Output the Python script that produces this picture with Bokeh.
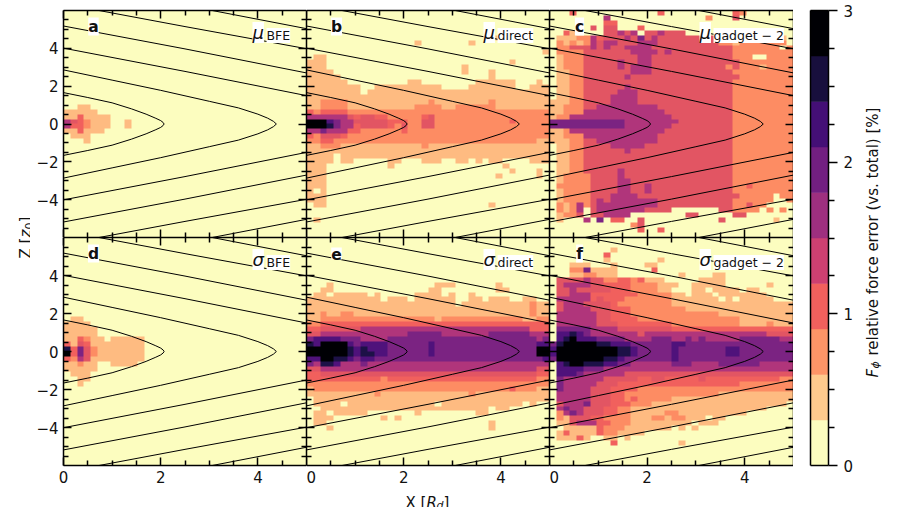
from math import pi

import numpy as np
from bokeh.embed import file_html
from bokeh.layouts import column, row
from bokeh.models import FixedTicker, Label, LinearAxis, LinearColorMapper
from bokeh.plotting import figure
from bokeh.resources import INLINE

# colour levels, 0 (< 0.3 %) to 9 (> 2.7 %), one step is 0.3 %
CBAR_COLORS = ["#fcfdbf", "#feca8d", "#fd9567", "#f1605d", "#cd4071",
               "#9e2f7f", "#721f81", "#440f76", "#180f3d", "#000004"]
CELL_COLORS = ["#fcfdbf", "#febb81", "#fd8c63", "#f1605d", "#e25563",
               "#b0357b", "#7b2382", "#4f127b", "#1d1147", "#000004"]
LEVEL_EDGES = [0.0, 0.3, 0.6, 0.9, 1.2, 1.5, 1.8, 2.1, 2.4, 2.7, 3.0]

X_TICKS = [0, 2, 4]
X_MINOR = [0.5, 1, 1.5, 2.5, 3, 3.5, 4.5]
Z_TICKS = [-4, -2, 0, 2, 4]
Z_MINOR = [-5.5, -5, -4.5, -3.5, -3, -2.5, -1.5, -1, -0.5, 0.5, 1, 1.5, 2.5, 3, 3.5, 4.5, 5, 5.5]
CBAR_TICKS = [0, 1, 2, 3]
CBAR_MINOR = [0.25, 0.5, 0.75, 1.25, 1.5, 1.75, 2.25, 2.5, 2.75]

# contour lines, upper half (the lower half is its mirror image)
CONTOUR_X = [
    [0, 0.5, 1.0, 1.4, 1.7, 1.9, 2.0, 2.05, 2.07],
    [0, 1, 2, 3, 3.6, 4, 4.2, 4.32, 4.38],
    [0, 2.5, 5],
    [0, 2.5, 5],
    [0.73, 2.5, 5],
    [3.06, 5],
]
CONTOUR_Z = [
    [1.66, 1.4, 1.12, 0.8, 0.52, 0.3, 0.18, 0.08, 0],
    [2.86, 2.32, 1.78, 1.2, 0.85, 0.52, 0.31, 0.14, 0],
    [4.01, 2.78, 1.5],
    [5.18, 3.97, 2.7],
    [6, 5.15, 3.98],
    [6, 5.04],
]

# cell levels, row number from the top -> columns from x = 0 (missing cells are 0)
MU_BFE = {
    19: "0011",
    20: "11111",
    21: "1131111",
    22: "5432111001",
    23: "5332111001",
    24: "113111",
    25: "0111",
    26: "0001",
}
MU_DIRECT = {
    5: "0000000000 0000000000 0000000010",
    6: "0000000000 0000001000 0000100000",
    8: "0000000000 0000000000 0000000000 000001",
    9: "0110000000",
    10: "1110000000 0000000000 0000000000 100000",
    11: "1110000000 0000000000 0001000000",
    12: "1111000000 0000000000 0001000100",
    13: "1111100000 0000000000 0000000100",
    14: "1111110000 0000011000 0000011111 100010",
    15: "1111111100 1111111111 0000111111 100111",
    16: "1111111101 1111111111 1111111111 111111",
    17: "1111111111 1111111111 1111111111 111111",
    18: "1122221111 1111111121 1111111211 111111",
    19: "1122221111 1111112222 1122222211 111111",
    20: "3233332222 2222222222 2222222222 222222",
    21: "5555554344 3322222342 2222222222 222222",
    22: "9997655444 4433322442 2222222222 322222",
    23: "9998655344 4432422442 2222222222 222222",
    24: "5565553322 2222322222 2222222222 222222",
    25: "3244432222 2222222222 2222222222 222222",
    26: "2233222222 2222222222 2222222222 222211",
    27: "1122211111 1111111211 1111111111 111111",
    28: "1111111111 1111111111 1111111111 111111",
    29: "1111011111 1111111111 1111111111 111111",
    30: "1111011000 0011000111 0011010110 000111",
    31: "1110000000 0010000000 0000000001 000000",
    32: "1110000000 0000000000 0000000000 100010",
    33: "1110000000 0000000000 0000000010 000010",
    34: "1110000000",
    35: "1110000000",
    36: "1010000000",
    37: "1110000000",
    38: "1110000000",
    39: "0110000000 0000000000 0000000100",
    42: "0100000000",
}
MU_GADGET = {
    0: "0003000000 0000003000 0000000320 000000",
    1: "0000000050 0000000000 0002000400 000000",
    2: "0000000033 0000000000 0000000000 000000",
    3: "0000004044 0003000000 0000000000 000000",
    4: "0031000044 5450445444 0000000000 000200",
    5: "0111225344 4546454444 4444422212 222110",
    6: "0212125455 4445554444 4444422122 222220",
    7: "0224445454 4555544444 4444444222 222202",
    8: "0222244444 4455554544 4444444222 222222",
    9: "0122244444 4445544444 4444444222 002222",
    10: "0122244444 5445544444 4444444422 222222",
    11: "0122244444 5455544444 4444442422 212222",
    12: "0112244444 4455544444 4444444222 222222",
    13: "0112244444 4544444444 4444444422 222222",
    14: "0112244444 4444444444 4444444222 222222",
    15: "0112244444 4544444444 4444444222 222222",
    16: "0112244444 5554444444 4444444222 222222",
    17: "0112244445 5554444444 4444444222 222222",
    18: "1112244445 5554444444 4444444222 222222",
    19: "1122244555 5555554444 4444444222 222222",
    20: "1122255555 5555555444 4444444222 222222",
    21: "1225555555 5555555544 4444444222 222222",
    22: "6666666666 6555555554 4444444222 222222",
    23: "6666666666 6555555544 4444444222 222222",
    24: "1125555555 5555555444 4444444222 222222",
    25: "1122255555 5555554444 4444444222 222222",
    26: "1112244555 5555554444 4444444222 222222",
    27: "0112244445 5555444444 4444444222 222222",
    28: "0112244444 4544444444 4444444222 222222",
    29: "0112244444 4444444444 4444444222 222222",
    30: "0112244444 4444444444 4444444222 222222",
    31: "0112244444 4444444444 4444444222 222222",
    32: "0112244444 5444444444 4444444222 222222",
    33: "0122224444 5444444444 4444444222 222222",
    34: "0122224444 5544444444 4444444222 222222",
    35: "0222224444 5544544444 4444444223 222222",
    36: "0122224444 5544544444 4444444222 222222",
    37: "0122224445 5554444444 4444444422 222022",
    38: "0122224545 5555554444 4444444222 222002",
    39: "0212524555 5555554444 4444444224 220000",
    40: "0212504555 5555444400 0000044222 202020",
    41: "0122404455 5500000000 4400000440 000000",
    42: "0100050603 3004000000 0000040000 000100",
    43: "0000000000 0024000000",
    44: "0000000000 0003003000",
}
SIGMA_BFE = {
    16: "011",
    17: "1111",
    18: "11111",
    19: "11111",
    20: "113211011111",
    21: "314311111111",
    22: "836421111111",
    23: "936421111111",
    24: "325411111111",
    25: "11211001111",
    26: "11111",
    27: "0111",
    28: "0011",
    29: "001",
}
SIGMA_DIRECT = {
    9: "0001000000 0000000001 1100000010",
    10: "0011000000 0000000011 0000000011",
    11: "0110111110 1000001111 0100100000",
    12: "1111111111 1011101111 1100110111 001100",
    13: "1111111111 1111111111 1101111111 111211",
    14: "1111111111 1111111111 1111111111 111211",
    15: "1121122111 1111111111 1111111111 111211",
    16: "1122222222 2222222221 2222222222 221122",
    17: "2233333333 3333333333 3333333333 333333",
    18: "3344444455 5555555555 5555555555 555333",
    19: "4455555555 5555566666 5555555666 666555",
    20: "6777766655 5566666666 6666666666 666656",
    21: "8799997677 7766666676 6666666666 666677",
    22: "9999998787 7766666676 6666666666 666699",
    23: "9999998788 7766666676 6666666666 666699",
    24: "7799887677 6666666666 6666666666 666667",
    25: "6588755565 5555555555 5555555555 555555",
    26: "4455555555 5555555555 5555555555 555544",
    27: "3344444444 4444444444 4444444444 444433",
    28: "3333333333 3233333333 3333333333 333322",
    29: "2222222222 2222222222 2222222222 222222",
    30: "1222222222 2222222222 2222222222 322211",
    31: "1111111111 2111111111 1111211111 111111",
    32: "0111111111 1111111111 1111111111 111111",
    33: "0111101111 1111111110 1111111111 110100",
    34: "0011111111 1111111111 1111111011 000000",
    35: "0110111110 0000001000 0000011000 000000",
    36: "0111000000 0101000000",
    37: "0110000000 0000000000 0000000100",
    38: "0001000000 0000000000 0000000100",
}
SIGMA_GADGET = {
    2: "0000000001",
    3: "0000000030",
    4: "0000000010 0000001000",
    5: "0001110001 0000110000",
    6: "0002261111 0000030000",
    7: "0001122111 0000000001 0000110000",
    8: "0444454422 3323111000 0011110000 000000",
    9: "0455554433 3322221110 0111110000 001000",
    10: "0445444443 3322221100 0110111101 100000",
    11: "0445553333 3332222211 0111011111 110000",
    12: "0555553433 3222222211 1111101011 111000",
    13: "0455544443 2222222211 1111111111 111111",
    14: "0455554443 3322222222 1111111111 111111",
    15: "0555555443 3322222222 2222211111 111111",
    16: "0555555443 3332222222 2222222211 111111",
    17: "0555555444 3333333322 2222222211 112111",
    18: "0666665555 4444444433 3333333333 333333",
    19: "0778765555 5554555555 5555555555 554444",
    20: "0789777666 6555566655 6565555566 666655",
    21: "6899999887 7766666677 6666666666 666666",
    22: "7999999999 8876666676 6666667766 666666",
    23: "7999999999 8876666676 6666667766 666666",
    24: "6999999988 7666666676 6666666666 666666",
    25: "0789988877 6655555566 6555566666 655555",
    26: "0777766655 5555555555 5555555555 555555",
    27: "0777655555 5444444444 4444444444 444444",
    28: "0655555544 4443344333 3343333333 333322",
    29: "0655555444 3333333333 3333333322 222222",
    30: "0655554443 3332222222 2222222222 222222",
    31: "0555554443 3222222222 2222211111 111111",
    32: "0555554443 3232222211 1111111111 111111",
    33: "0455564443 3322211111 1111111111 111110",
    34: "0565544433 2211111111 1111111111 110000",
    35: "0256544433 2211111221 1111111110 000000",
    36: "0214443322 2211122122 1110110000 000000",
    37: "0114555332 2211111111 1011100000 000000",
    38: "0011111322 2111111101 0100000000 000000",
    39: "0131111322 1111000000",
    40: "0111310011 0100000000",
    41: "0000000003 0000000001",
}

N_ROWS = 46
N_COLS = 36
FONT = "DejaVu Sans"


def to_grid(rows):
    # middle of each level's range, in percent
    grid = np.zeros((N_ROWS, N_COLS))
    for r, cells in rows.items():
        cells = cells.replace(" ", "").ljust(N_COLS, "0")[:N_COLS]
        grid[r] = [(int(c) + 0.5) * 0.3 for c in cells]
    return np.flipud(grid)


def style_axis(axis, ticks, minor, labelled, tick_in=8, minor_in=5):
    axis.ticker = FixedTicker(ticks=ticks, minor_ticks=minor)
    axis.axis_line_width = 1.5
    axis.major_tick_line_width = 1.5
    axis.minor_tick_line_width = 1.5
    axis.major_tick_in = tick_in
    axis.major_tick_out = 0
    axis.minor_tick_in = minor_in
    axis.minor_tick_out = 0
    axis.major_label_text_font = FONT
    axis.major_label_text_color = "#111111"
    if labelled:
        axis.major_label_standoff = 5
        axis.major_label_text_font_size = "15px"
        axis.major_label_overrides = {-4: "\u22124", -2: "\u22122"}
    else:
        axis.major_label_standoff = 0
        axis.major_label_text_font_size = "1px"
        axis.major_label_overrides = {t: "" for t in ticks}


def word(p, x, y, text, size=15, style="normal", angle=0, bg=None, align="left", baseline="alphabetic"):
    p.add_layout(Label(x=x, y=y, x_units="screen", y_units="screen", text=text,
                       text_font=FONT, text_font_size="%gpx" % size, text_font_style=style,
                       text_color="#111111", angle=angle, text_align=align,
                       text_baseline=baseline, background_fill_color=bg))


def text_strip(frame_w, frame_h, left=0, top=0, bottom=0):
    s = figure(frame_width=frame_w, frame_height=frame_h, x_range=(0, 1), y_range=(0, 1),
               output_backend="svg", toolbar_location=None, x_axis_type=None, y_axis_type=None,
               min_border=0, min_border_left=left, min_border_top=top, min_border_bottom=bottom,
               outline_line_color=None)
    s.grid.visible = False
    return s


def panel(rows, letter, symbol, sub, sub_x, frame_w, frame_h, left=0, top=0, bottom=0,
          show_x=False, show_y=False):
    p = figure(frame_width=frame_w, frame_height=frame_h, x_range=(0, 5), y_range=(-6, 6),
               output_backend="svg", toolbar_location=None, x_axis_location=None,
               y_axis_location=None, min_border=0, min_border_left=left, min_border_top=top,
               min_border_bottom=bottom, outline_line_color=None, background_fill_color=CELL_COLORS[0])
    p.grid.visible = False
    mapper = LinearColorMapper(palette=CELL_COLORS, low=LEVEL_EDGES[0], high=LEVEL_EDGES[-1])
    p.image(image=[to_grid(rows)], x=0, y=-6, dw=5, dh=12, color_mapper=mapper)

    lines_x = []
    lines_z = []
    for cx, cz in zip(CONTOUR_X, CONTOUR_Z):
        lines_x += [cx, cx]
        lines_z += [cz, [-z for z in cz]]
    p.multi_line(lines_x, lines_z, line_color="black", line_width=1)

    for place, ticks, minor, labelled in [("below", X_TICKS, X_MINOR, show_x),
                                          ("above", X_TICKS, X_MINOR, False),
                                          ("left", Z_TICKS, Z_MINOR, show_y),
                                          ("right", Z_TICKS, Z_MINOR, False)]:
        axis = LinearAxis()
        style_axis(axis, ticks, minor, labelled)
        p.add_layout(axis, place)

    word(p, 30, frame_h - 16, letter, size=15.5, style="bold", bg="white", align="center", baseline="middle")
    word(p, sub_x + 14, frame_h - 25, sub, size=12.5, bg="white")
    word(p, sub_x, frame_h - 22, symbol, size=18, style="italic", bg="white")
    return p


a = panel(MU_BFE, "a", "\u03bc", "BFE", 189, 243, 227, left=33, top=10, show_y=True)
b = panel(MU_DIRECT, "b", "\u03bc", "direct", 177, 243, 227, top=10)
c = panel(MU_GADGET, "c", "\u03bc", "gadget \u2212 2", 150, 244, 227, top=10)
d = panel(SIGMA_BFE, "d", "\u03c3", "BFE", 189, 243, 228, left=33, bottom=22, show_x=True, show_y=True)
e = panel(SIGMA_DIRECT, "e", "\u03c3", "direct", 177, 243, 228, bottom=22, show_x=True)
f = panel(SIGMA_GADGET, "f", "\u03c3", "gadget \u2212 2", 150, 244, 228, bottom=22, show_x=True)

# x label strip under the panels
x_strip = text_strip(730, 20, left=33)
word(x_strip, 342, 5, "X [")
word(x_strip, 363, 5, "R", style="italic")
word(x_strip, 373, 2, "d", size=11, style="italic")
word(x_strip, 380, 5, "]")

# strip left of the panels holds the z label, which crosses both rows
z_strip = text_strip(30, 455, top=10, bottom=42)
word(z_strip, 25, 207, "Z [", angle=pi / 2)
word(z_strip, 25, 228, "z", style="italic", angle=pi / 2)
word(z_strip, 28, 236, "0", size=11, angle=pi / 2)
word(z_strip, 25, 243, "]", angle=pi / 2)

cbar = figure(frame_width=18, frame_height=455, x_range=(0, 1), y_range=(0, 3),
              output_backend="svg", toolbar_location=None, x_axis_location=None,
              y_axis_location=None, min_border=0, min_border_left=17, min_border_right=30,
              min_border_top=10, min_border_bottom=42, outline_line_color=None)
cbar.grid.visible = False
cbar.quad(left=0, right=1, bottom=LEVEL_EDGES[:-1], top=LEVEL_EDGES[1:], fill_color=CBAR_COLORS,
          line_color=CBAR_COLORS, line_width=0.5)
for place in ["left", "above", "below"]:
    edge = LinearAxis(axis_line_width=1.5, major_tick_in=0, major_tick_out=0, minor_tick_in=0,
                      minor_tick_out=0)
    edge.ticker = FixedTicker(ticks=[])
    edge.major_label_standoff = 0
    edge.major_label_text_font_size = "1px"
    cbar.add_layout(edge, place)
cbar_axis = LinearAxis()
style_axis(cbar_axis, CBAR_TICKS, CBAR_MINOR, True, tick_in=0, minor_in=0)
cbar_axis.major_tick_out = 9
cbar_axis.minor_tick_out = 6
cbar_axis.major_label_standoff = 6
cbar.add_layout(cbar_axis, "right")

# colour bar label
c_strip = text_strip(25, 455, top=10, bottom=42)
word(c_strip, 14, 88, "F", style="italic", angle=pi / 2)
word(c_strip, 17, 97, "\u03d5", size=11, style="italic", angle=pi / 2)
word(c_strip, 14, 110, "relative force error (vs. total) [%]", angle=pi / 2)

layout = row(z_strip, column(row(a, b, c), row(d, e, f), x_strip), cbar, c_strip)
open("out.html", "w").write(file_html(layout, INLINE))
